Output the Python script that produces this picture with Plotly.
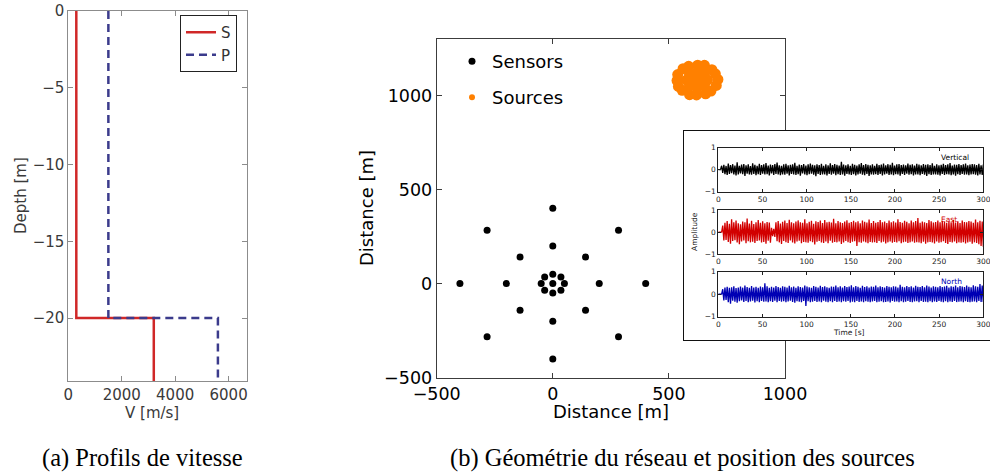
import numpy as np
import plotly.graph_objects as go

W, H = 990, 475

# ---- (a) velocity profiles -------------------------------------------
depth_s = [0, -20, -20, -25]
vel_s = [300, 300, 3200, 3200]
depth_p = [0, -20, -20, -25]
vel_p = [1500, 1500, 5600, 5600]

# ---- (b) array geometry ----------------------------------------------
sensor_x = [0, 50, 35, 0, -35, -50, -35, 0, 35,
            200, 141, 0, -141, -200, -141, 0, 141,
            400, 283, 0, -283, -400, -283, 0, 283]
sensor_y = [0, 0, 35, 50, 35, 0, -35, -50, -35,
            0, 141, 200, 141, 0, -141, -200, -141,
            0, 283, 400, 283, 0, -283, -400, -283]

source_x = [711, 700, 685, 653, 624, 585, 561, 538, 535, 541, 557, 589, 619, 658, 681, 704,
            666, 653, 621, 589, 576, 589, 621, 653,
            621, 641, 601, 601, 641]
source_y = [1085, 1115, 1137, 1160, 1161, 1155, 1142, 1111, 1079, 1048, 1027, 1004, 1003, 1009, 1023, 1053,
            1082, 1112, 1124, 1112, 1082, 1052, 1040, 1052,
            1082, 1097, 1097, 1067, 1067]

# ---- inset: three-component noise records, 0-300 s (hundredths) -------
vertical = [0, 0, 0, 18, -15, 22, -20, 17, -24, 28, -19, 21, -16, 25, -22, 19, -26, 34, -21, 18,
            -17, 23, -20, 26, -28, 20, -18, 24, -21, 17, -23, 29, -19, 22, -25, 18, -20, 27, -24, 21,
            -18, 24, -22, 30, -20, 19, -26, 23, -17, 21, -24, 26, -19, 33, -22, 20, -25, 18, -21, 24,
            -23, 27, -18, 20, -26, 22, -19, 25, -21, 31, -24, 18, -20, 23, -27, 21, -17, 26, -22, 19,
            -25, 24, -20, 28, -18, 22, -23, 20, -30, 25, -19, 21, -24, 27, -21, 18, -22, 24, -26, 20,
            -19, 29, -23, 21, -18, 26, -25, 22, -20, 19, -24, 36, -21, 23, -27, 20, -19, 25, -22, 18,
            -24, 27, -20, 22, -26, 19, -21, 24, -18, 30, -23, 21, -25, 26, -19, 22, -28, 20, -21, 25,
            -23, 18, -20, 27, -24, 21, -19, 23, -26, 28, -22, 20, -18, 25, -24, 22, -21, 31, -25, 19,
            -20, 24, -22, 26, -27, 21, -19, 23, -24, 20, -18, 28, -23, 22, -20, 25, -26, 19, -22, 27,
            -21, 23, -25, 20, -19, 26, -23, 22, -28, 24, -20, 21, -24, 29, -22, 18, -21, 25, -23, 20,
            -26, 22, -19, 27, -24, 21, -20, 24, -22, 30, -25, 19, -21, 23, -27, 22, -20, 26, -24, 21,
            -19, 25, -23, 28, -21, 20, -25, 23, -22, 26, -20, 24, -23, 21, -26, 27, -22, 20, -24, 23]
east = [0, 0, 0, 0, 30, -38, 42, -35, 50, -44, 38, -52, 58, -40, 45, -36, 52, -47, 40, -55,
        36, -42, 48, -38, 44, -50, 62, -41, 39, -46, 51, -43, 37, -49, 45, -40, 55, -38, 42, -47,
        49, -44, 40, -52, 46, -39, 43, -48, 20, -18, 15, -22, 44, -41, 50, -46, 39, -53, 47, -40,
        52, -45, 41, -49, 56, -38, 44, -47, 40, -51, 48, -42, 53, -39, 45, -50, 42, -44, 58, -46,
        40, -48, 47, -41, 51, -45, 38, -56, 49, -43, 46, -40, 52, -47, 41, -49, 55, -42, 44, -50,
        47, -39, 43, -48, 60, -44, 40, -46, 50, -42, 45, -53, 41, -47, 48, -40, 54, -45, 42, -49,
        46, -43, 51, -41, 44, -62, 49, -45, 40, -48, 53, -42, 47, -46, 43, -50, 57, -44, 41, -47,
        50, -45, 42, -49, 46, -40, 55, -47, 44, -43, 48, -51, 41, -46, 52, -42, 45, -48, 49, -44,
        43, -47, 58, -41, 46, -50, 42, -45, 51, -43, 47, -49, 40, -46, 53, -42, 44, -48, 50, -45,
        64, -47, 42, -50, 48, -43, 45, -52, 41, -46, 55, -44, 49, -47, 43, -51, 46, -42, 52, -48,
        44, -45, 50, -41, 47, -49, 42, -53, 48, -44, 45, -47, 56, -42, 43, -50, 49, -46, 41, -48,
        53, -45, 46, -51, 44, -47, 50, -43, 48, -52, 42, -46, 57, -49, 45, -55, 51, -62, 48, -66]
north = [0, 0, 0, 0, 22, -28, 30, -26, 33, -36, 28, -42, 31, -29, 35, -33, 27, -38, 30, -31,
         34, -28, 29, -34, 38, -30, 32, -35, 28, -32, 36, -29, 30, -37, 33, -31, 29, -35, 34, -30,
         31, -33, 48, -32, 35, -36, 29, -31, 33, -34, 30, -29, 36, -35, 32, -30, 28, -33, 35, -31,
         33, -36, 30, -32, 37, -29, 31, -34, 34, -38, 29, -31, 35, -33, 32, -36, 30, -30, 38, -52,
         34, -31, 31, -35, 29, -33, 36, -30, 33, -34, 30, -32, 37, -36, 32, -29, 35, -33, 31, -35,
         29, -31, 34, -36, 33, -30, 38, -34, 31, -32, 35, -35, 30, -31, 36, -33, 32, -30, 34, -37,
         40, -33, 31, -35, 36, -30, 33, -34, 29, -32, 37, -36, 32, -31, 35, -33, 30, -35, 34, -32,
         33, -30, 38, -36, 31, -33, 35, -31, 32, -35, 30, -34, 36, -32, 33, -37, 31, -30, 35, -33,
         34, -32, 30, -36, 42, -31, 33, -35, 31, -33, 36, -30, 32, -34, 35, -36, 30, -32, 37, -31,
         33, -35, 32, -30, 36, -34, 31, -33, 38, -36, 34, -31, 30, -35, 35, -32, 33, -34, 31, -30,
         36, -33, 32, -35, 34, -31, 37, -36, 30, -32, 35, -34, 33, -30, 39, -35, 31, -33, 36, -32,
         34, -36, 32, -31, 38, -34, 33, -35, 31, -33, 40, -32, 35, -36, 33, -30, 45, -35, 38, -34]
components = ["Vertical", "East", "North"]
comp_colors = ["#000000", "#d20000", "#0000b4"]
inset_ticks_t = [0, 50, 100, 150, 200, 250, 300]
inset_ticks_a = [-1, 0, 1]


def px(x):
    return x / W


def py(y):
    return 1 - y / H


SANS = "DejaVu Sans"
fig = go.Figure()

# (a) profiles
fig.add_trace(go.Scatter(x=vel_s, y=depth_s, mode="lines", name="S",
                         line=dict(color="#d02828", width=2.5), xaxis="x", yaxis="y"))
fig.add_trace(go.Scatter(x=vel_p, y=depth_p, mode="lines", name="P",
                         line=dict(color="#3b3b8c", width=2.5, dash="8px,5px"),
                         xaxis="x", yaxis="y"))

# (b) sensors and sources
fig.add_trace(go.Scatter(x=sensor_x, y=sensor_y, mode="markers", name="Sensors",
                         marker=dict(color="black", size=7), xaxis="x2", yaxis="y2",
                         legend="legend2"))
fig.add_trace(go.Scatter(x=source_x, y=source_y, mode="markers", name="Sources",
                         marker=dict(color="#ff8000", size=11), xaxis="x2", yaxis="y2",
                         showlegend=False))
# legend key for the sources, with a smaller symbol than the cloud
fig.add_trace(go.Scatter(x=[None], y=[None], mode="markers", name="Sources",
                         marker=dict(color="#ff8000", size=6), xaxis="x2", yaxis="y2",
                         legend="legend3"))

# inset frame holder
fig.add_trace(go.Scatter(x=[None], y=[None], xaxis="x3", yaxis="y3", showlegend=False))

# inset records
for i, (rec, col) in enumerate(zip([vertical, east, north], comp_colors)):
    amp = np.array(rec) / 100.0
    t = np.linspace(0, 300, len(amp))
    fig.add_trace(go.Scatter(x=t, y=amp, mode="lines", showlegend=False,
                             line=dict(color=col, width=1.3),
                             xaxis=f"x{4 + i}", yaxis=f"y{4 + i}"))

common_a = dict(showgrid=False, zeroline=False, showline=True, mirror="ticks",
                ticks="inside", ticklen=5, linecolor="#8c8c8c", tickcolor="#8c8c8c",
                linewidth=1, tickfont=dict(family=SANS, size=15, color="#3a3a3a"))
common_b = dict(showgrid=False, zeroline=False, showline=True, mirror="ticks",
                ticks="inside", ticklen=5, linecolor="#3c3c3c", tickcolor="#3c3c3c",
                linewidth=1, tickfont=dict(family=SANS, size=17.5, color="black"))
common_i = dict(showgrid=False, zeroline=False, showline=True, mirror="ticks",
                ticks="inside", ticklen=3, linecolor="#202020", tickcolor="#202020",
                linewidth=0.8, ticklabeloverflow="allow",
                tickfont=dict(family=SANS, size=7.5, color="#202020"))

layout = dict(
    width=W, height=H, margin=dict(l=0, r=0, t=0, b=0, autoexpand=False),
    paper_bgcolor="white", plot_bgcolor="white", showlegend=True,
    xaxis=dict(domain=[px(68.3), px(247.3)], range=[0, 6700],
               tickvals=[0, 2000, 4000, 6000], anchor="y", **common_a),
    yaxis=dict(domain=[py(381), py(11)], range=[-24.1, 0],
               tickvals=[0, -5, -10, -15, -20], anchor="x", **common_a),
    xaxis2=dict(domain=[px(436.7), px(785)], range=[-500, 1000],
                tickvals=[-500, 0, 500, 1000], anchor="y2", **common_b),
    yaxis2=dict(domain=[py(377.7), py(39)], range=[-500, 1300],
                tickvals=[-500, 0, 500, 1000], anchor="x2", **common_b),
    xaxis3=dict(domain=[px(684), 1.0], range=[0, 1], anchor="y3", showgrid=False,
                zeroline=False, showline=True, mirror=True, linecolor="#111111",
                linewidth=1.3, showticklabels=False, ticks=""),
    yaxis3=dict(domain=[py(340), py(131)], range=[0, 1], anchor="x3", showgrid=False,
                zeroline=False, showline=True, mirror=False, linecolor="#111111",
                linewidth=1.3, showticklabels=False, ticks=""),
    legend=dict(x=px(180), y=py(15), xanchor="left", yanchor="top",
                bordercolor="#222222", borderwidth=1, bgcolor="white",
                font=dict(family=SANS, size=15, color="#333333")),
    legend2=dict(x=px(452), y=py(43), xanchor="left", yanchor="top",
                 bgcolor="rgba(0,0,0,0)", font=dict(family=SANS, size=18, color="black")),
    legend3=dict(x=px(452), y=py(79), xanchor="left", yanchor="top",
                 bgcolor="rgba(0,0,0,0)", font=dict(family=SANS, size=18, color="black")),
)

inset_rows = [(147.7, 191.7), (210, 254.3), (271.7, 316.7)]
for i, (top, bot) in enumerate(inset_rows):
    n = 4 + i
    layout[f"xaxis{n}"] = dict(domain=[px(718.3), px(983.3)], range=[0, 300],
                               tickvals=inset_ticks_t, anchor=f"y{n}", **common_i)
    layout[f"yaxis{n}"] = dict(domain=[py(bot), py(top)], range=[-1, 1],
                               tickvals=inset_ticks_a, anchor=f"x{n}", **common_i)

fig.update_layout(**layout)

ann = []
# axis titles
ann.append(dict(text="Depth [m]", x=px(21), y=py(196), textangle=-90,
                font=dict(family=SANS, size=15, color="#3a3a3a")))
ann.append(dict(text="V [m/s]", x=px(152), y=py(413),
                font=dict(family=SANS, size=15, color="#3a3a3a")))
ann.append(dict(text="Distance [m]", x=px(611), y=py(411),
                font=dict(family=SANS, size=18, color="black")))
ann.append(dict(text="Distance [m]", x=px(366), y=py(208), textangle=-90,
                font=dict(family=SANS, size=18, color="black")))
ann.append(dict(text="Amplitude", x=px(695), y=py(232), textangle=-90,
                font=dict(family=SANS, size=7.5, color="#202020")))
ann.append(dict(text="Time [s]", x=px(849), y=py(332),
                font=dict(family=SANS, size=7.5, color="#202020")))
for a in ann:
    a.update(xref="paper", yref="paper", showarrow=False, xanchor="center", yanchor="middle")

# component names inside the inset panels
for i, (name, col) in enumerate(zip(components, comp_colors)):
    ann.append(dict(text=name, x=250, y=0.55, xref=f"x{4 + i}", yref=f"y{4 + i}",
                    showarrow=False, xanchor="left", yanchor="middle",
                    font=dict(family=SANS, size=7.5, color=col)))

# sub-figure captions
SERIF = "Liberation Serif"
ann.append(dict(text="(a) Profils de vitesse", x=px(40), y=py(458), xref="paper", yref="paper",
                showarrow=False, xanchor="left", yanchor="middle",
                font=dict(family=SERIF, size=24.5, color="black")))
ann.append(dict(text="(b) Géométrie du réseau et position des sources", x=px(448), y=py(458),
                xref="paper", yref="paper", showarrow=False, xanchor="left", yanchor="middle",
                font=dict(family=SERIF, size=24.5, color="black")))

fig.update_layout(annotations=ann)
fig.write_html("out.html")
